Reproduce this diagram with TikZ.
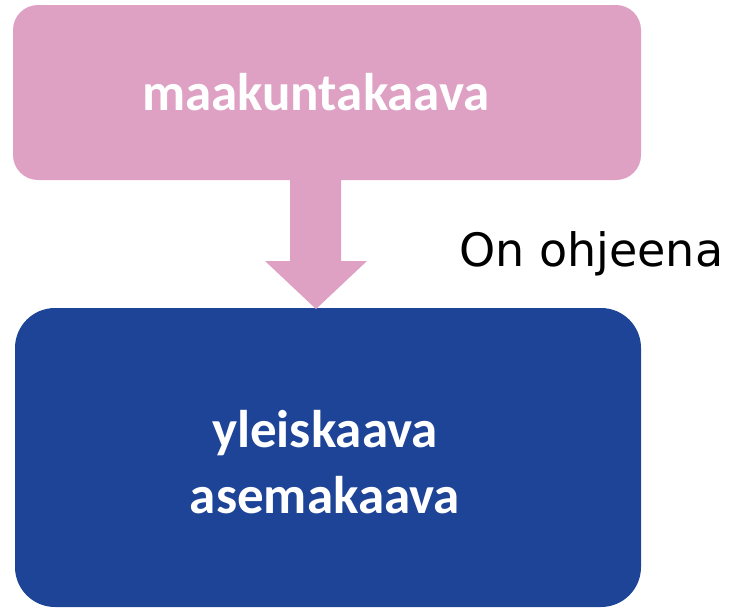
\documentclass[tikz,border=0pt]{standalone}
\usepackage{fontspec}
\setmainfont{Carlito}
\newfontfamily\labelfont{DejaVu Sans}
\definecolor{pinkfill}{HTML}{DEA1C4}
\definecolor{bluefill}{HTML}{1E4497}
\begin{document}
\begin{tikzpicture}[x=1pt,y=-1pt,
  planbox/.style={inner sep=0pt, text=white, font=\fontsize{53}{66}\selectfont\bfseries, align=center}]
\useasboundingbox (0,0) rectangle (731,608);
% regional plan box
\fill[pinkfill, rounded corners=25pt] (13,5) rectangle (641,180);
\node[planbox] (mk) at (316,92) {maakuntakaava};
% local plans box
\fill[bluefill, rounded corners=40pt] (15,308) rectangle (641,607);
\node[planbox] (yl) at (325,462) {yleiskaava\\asemakaava};
% block arrow
\coordinate (tip) at (316,309);
\fill[pinkfill] (290,178) -- (341,178) -- (341,261) -- (367,261) -- (tip) -- (265,261) -- (290,261) -- cycle;
\node[anchor=base west, inner sep=0pt, font=\labelfont\fontsize{46}{50}\selectfont] (lbl) at (459,266) {On ohjeena};
\end{tikzpicture}
\end{document}
